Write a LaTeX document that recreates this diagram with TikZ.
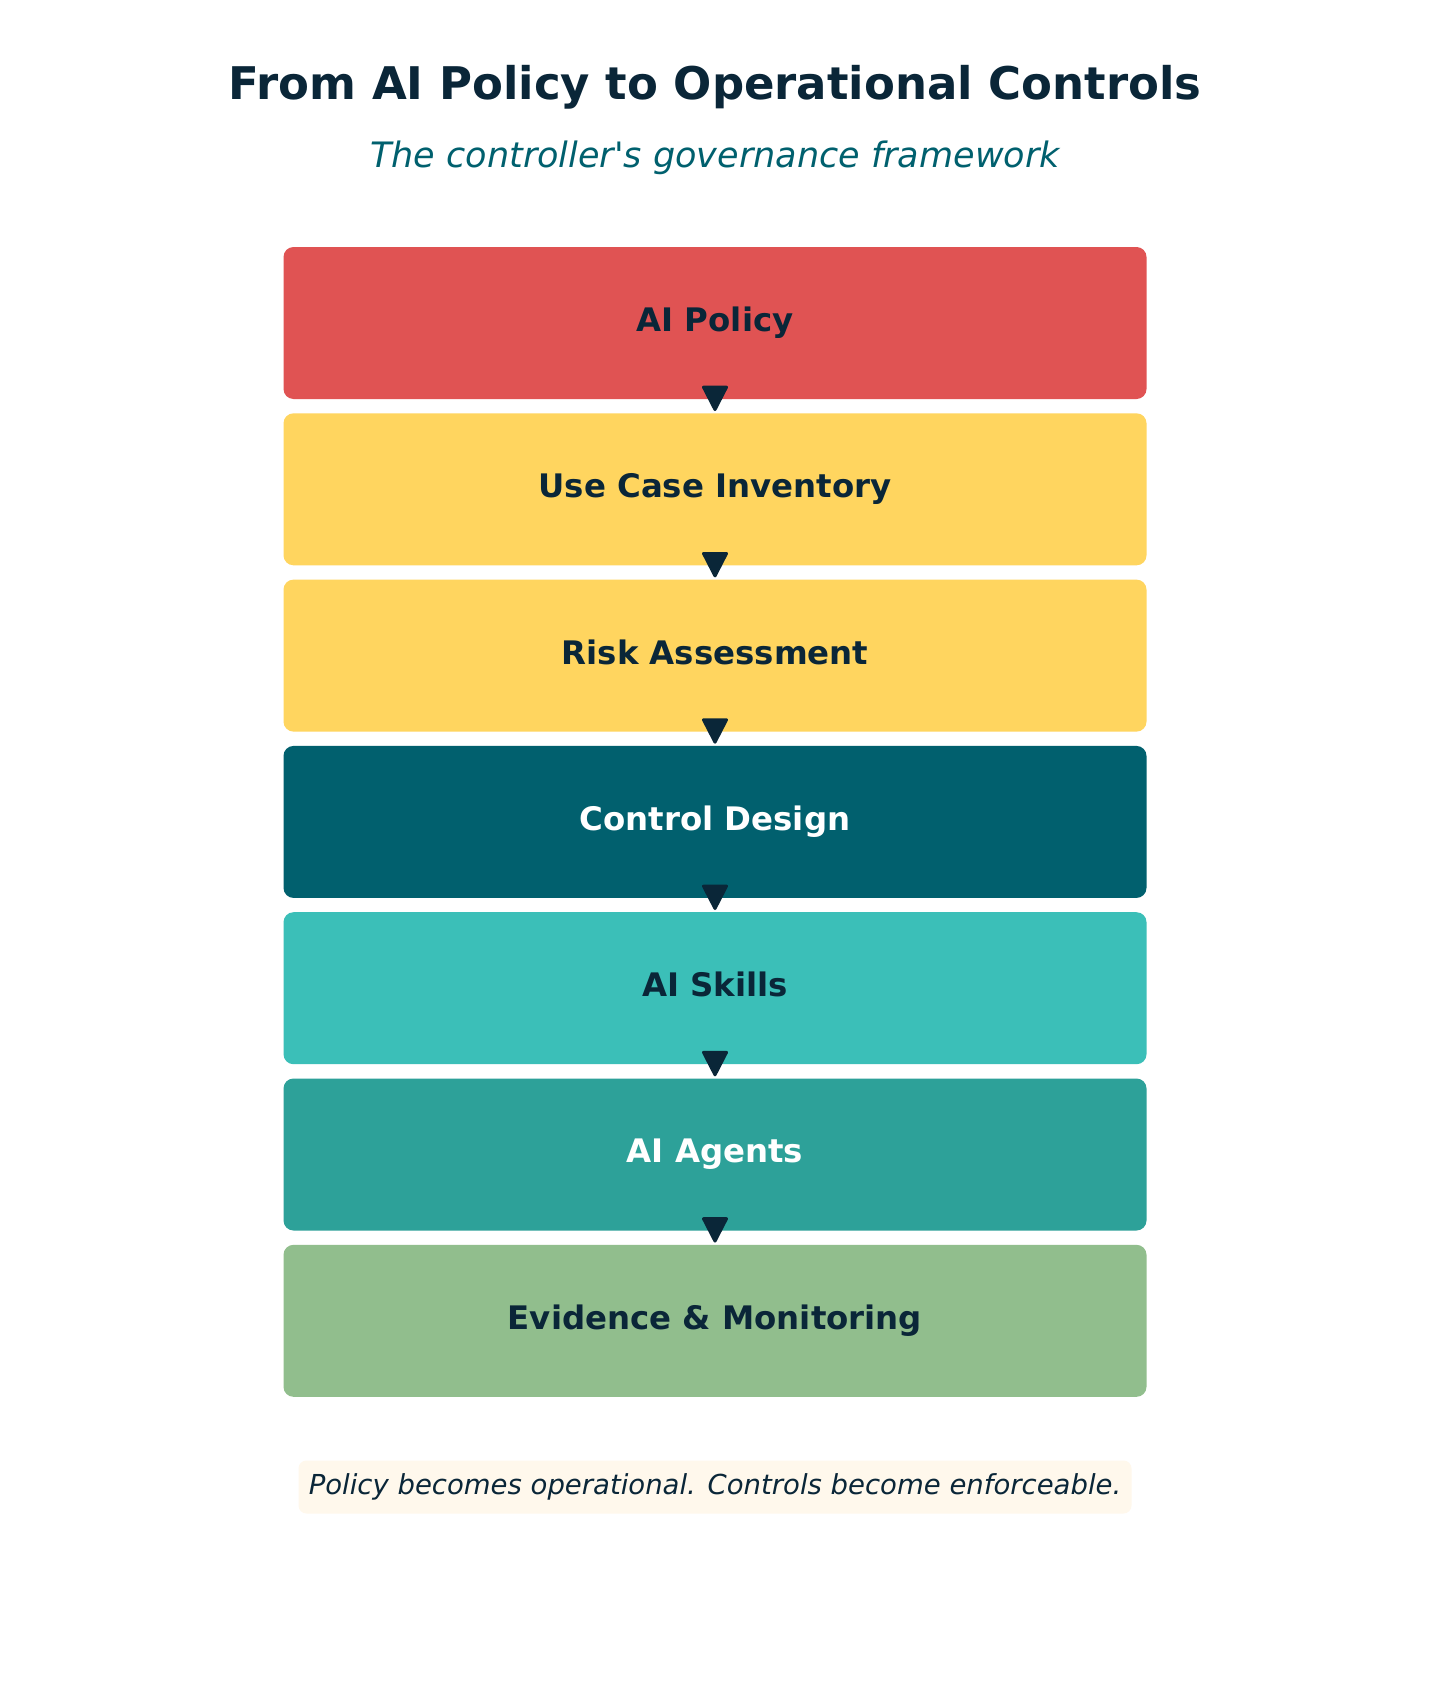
\documentclass[tikz,border=0pt]{standalone}
\usepackage{fontspec}
\setmainfont{DejaVu Sans}[Ligatures=TeXOff]
\definecolor{ink}{HTML}{0A2638}
\definecolor{subink}{HTML}{00606E}
\definecolor{cRed}{HTML}{E05353}
\definecolor{cYellow}{HTML}{FFD55F}
\definecolor{cDeep}{HTML}{01606E}
\definecolor{cTurq}{HTML}{3BBFB8}
\definecolor{cTeal}{HTML}{2DA199}
\definecolor{cGreen}{HTML}{91BE8D}
\definecolor{cNote}{HTML}{FFF8EC}
\begin{document}
\begin{tikzpicture}[x=1pt,y=-1pt,
  stage/.style={rectangle, rounded corners=10pt, minimum width=863pt, minimum height=152pt,
    inner sep=0pt, text height=24.6pt, text depth=7.7pt,
    font=\fontsize{32.4}{38}\selectfont\bfseries, text=ink},
  flowhead/.style={fill=ink, draw=ink, line width=3pt, line join=round}]
\useasboundingbox[fill=white] (0,0) rectangle (1430,1699);
\node[anchor=base, text=ink, font=\fontsize{45}{54}\selectfont\bfseries] (title) at (715,100) {From AI Policy to Operational Controls};
\node[anchor=base, text=subink, font=\fontsize{35}{42}\selectfont\itshape] (subtitle) at (715,167.5) {The controller's governance framework};
\node[stage, fill=cRed] (s1) at (715,323) {AI Policy};
\node[stage, fill=cYellow] (s2) at (715,489.3) {Use Case Inventory};
\node[stage, fill=cYellow] (s3) at (715,655.6) {Risk Assessment};
\node[stage, fill=cDeep, text=white] (s4) at (715,821.9) {Control Design};
\node[stage, fill=cTurq] (s5) at (715,988.2) {AI Skills};
\node[stage, fill=cTeal, text=white] (s6) at (715,1154.5) {AI Agents};
\node[stage, fill=cGreen] (s7) at (715,1320.8) {Evidence \& Monitoring};
\foreach \a/\b in {s1/s2,s2/s3,s3/s4,s4/s5,s5/s6,s6/s7}
  \draw[flowhead] ([xshift=-11.5pt,yshift=12pt]\a.south) -- ([xshift=11.5pt,yshift=12pt]\a.south) -- ([yshift=3.5pt]\b.north) -- cycle;
\node[fill=cNote, rounded corners=8pt, minimum width=833pt, minimum height=53pt, inner sep=0pt,
  text height=20.9pt, text depth=6.6pt, text=ink, font=\fontsize{27.5}{33}\selectfont\itshape] (note) at (715,1487)
  {Policy becomes operational. Controls become enforceable.};
\end{tikzpicture}
\end{document}
